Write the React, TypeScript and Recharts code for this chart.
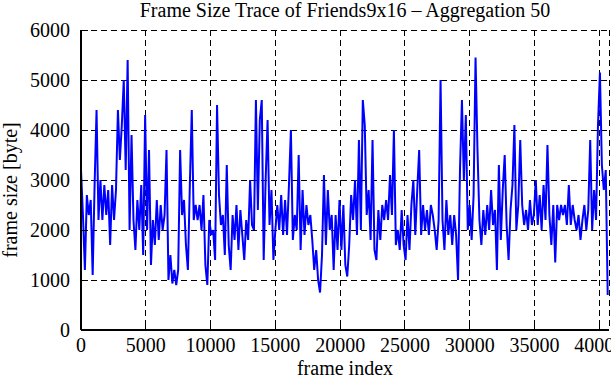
import React from 'react';
import { CartesianGrid, Label, Line, LineChart, XAxis, YAxis } from 'recharts';

// one plotted sample every 150 frames
const frameStep = 150;
const frameSizes = [
  3200, 2300, 1200, 2700, 2300, 2600, 1100, 2900, 4400, 2200, 3000, 2200, 2900, 2300, 2800, 1700,
  2900, 2200, 2800, 4400, 3400, 4100, 5000, 3200, 5400, 2000, 3900, 2200, 1600, 2600, 2000, 2900,
  1500, 4300, 2000, 3600, 1300, 2200, 1700, 2600, 1800, 2500, 2000, 2300, 3600, 1000,
  1500, 930, 1200, 900, 1200, 3600, 2300, 2600, 1700, 1200, 2900, 4400, 2200, 2500, 2200, 2500,
  2000, 2700, 1300, 900, 2200, 1900, 2000, 1400, 4500, 2700, 2100, 2300, 1500, 3300, 1700, 1200,
  2300, 1800, 2500, 1600, 2400, 1900, 1400, 2200, 1800, 3000, 2100, 2000, 4600,
  2400, 4200, 4600, 1400, 3000, 4200, 2100, 2800, 1400, 2000, 2500, 2000, 2700, 1900, 2600, 1900,
  2900, 4000, 1800, 2300, 2000, 3500, 1600, 2800, 1900, 2500, 2100, 2300, 1800, 1200, 1600, 1000,
  750, 1500, 3100, 1700, 2800, 2000, 2300, 1200, 2300, 1600, 2600, 1600, 2500,
  1300, 1070, 1700, 2700, 2200, 3000, 1900, 3800, 2000, 4600, 4100, 2300, 2800, 1800, 3800, 1600,
  1400, 2400, 1800, 2500, 2200, 2600, 2200, 3100, 2300, 4000, 1700, 2000, 1600, 2400, 1700, 1400,
  2300, 1600, 2500, 3000, 1900, 2800, 3600, 1900, 2500, 2000, 2400, 1900, 2500,
  2300, 2000, 1600, 2200, 5000, 2200, 1600, 2600, 1900, 2300, 1700, 2300, 1900, 1000, 3200, 4600,
  3000, 4300, 2000, 2500, 1800, 2700, 5450, 3600, 2200, 1700, 2400, 1900, 2500, 2000, 2800, 2100,
  2400, 1200, 3300, 1800, 2800, 3500, 2100, 1400, 2400, 2900, 4100, 2000, 2500, 3800,
  2500, 2100, 2400, 2000, 2600, 2100, 2300, 3000, 2100, 2700, 2000, 2900, 2200, 3700, 2300, 1700,
  2500, 1350, 2500, 2200, 2500, 2300, 2500, 2100, 2900, 2100, 2500, 2200, 2000, 2300, 1800, 2200,
  2500, 2000, 2400, 3800, 2000, 2800, 2200, 4100, 5150, 3300, 2800, 3200, 700,
];

const xTicks = [0, 5000, 10000, 15000, 20000, 25000, 30000, 35000, 40000];
const yTicks = [0, 1000, 2000, 3000, 4000, 5000, 6000];
const xMax = 40750;

const data = frameSizes.map((size, i) => ({ frame: i * frameStep, size }));

const font = "'Liberation Serif', 'Times New Roman', serif";
const frameLine = { stroke: '#000', strokeWidth: 2, shapeRendering: 'crispEdges' };

const BottomTick = ({ x, y, payload }: any) => (
  <g>
    <line x1={x} y1={y - 8} x2={x} y2={y - 15} stroke="#000" shapeRendering="crispEdges" />
    <text x={x} y={y} dy="0.71em" textAnchor="middle" fontFamily={font} fontSize={20} fill="#000">
      {payload.value}
    </text>
  </g>
);

const LeftTick = ({ x, y, payload }: any) => (
  <g>
    <line x1={x + 11} y1={y} x2={x + 18} y2={y} stroke="#000" shapeRendering="crispEdges" />
    <text x={x} y={y} dy="0.355em" textAnchor="end" fontFamily={font} fontSize={20} fill="#000">
      {payload.value}
    </text>
  </g>
);

const TopTick = ({ x, y }: any) => (
  <line x1={x} y1={y} x2={x} y2={y + 7} stroke="#000" shapeRendering="crispEdges" />
);

const RightTick = ({ x, y }: any) => (
  <line x1={x} y1={y} x2={x - 7} y2={y} stroke="#000" shapeRendering="crispEdges" />
);

const App = () => {
  return (
    <div style={{ position: 'absolute', left: 0, top: 0, width: 611, height: 380, background: '#fff' }}>
      <div
        style={{
          position: 'absolute',
          left: 81,
          top: 1,
          width: 528,
          textAlign: 'center',
          fontFamily: font,
          fontSize: 20,
          lineHeight: '18px',
          color: '#000',
          whiteSpace: 'nowrap',
        }}
      >
        Frame Size Trace of Friends9x16 – Aggregation 50
      </div>
      <LineChart width={611} height={380} data={data} margin={{ top: 30, right: 2, bottom: 0, left: 0 }}>
        <CartesianGrid stroke="#000" strokeDasharray="6 4" shapeRendering="crispEdges" />
        <XAxis
          dataKey="frame"
          type="number"
          domain={[0, xMax]}
          ticks={xTicks}
          interval={0}
          height={50}
          tickSize={0}
          tickMargin={8}
          allowDataOverflow
          axisLine={frameLine}
          tick={BottomTick}
        >
          <Label
            content={({ viewBox }: any) => (
              <text x={viewBox.x + viewBox.width / 2} y={viewBox.y + 45} textAnchor="middle" fontFamily={font} fontSize={20} fill="#000">
                frame index
              </text>
            )}
          />
        </XAxis>
        <XAxis
          xAxisId="top"
          orientation="top"
          type="number"
          domain={[0, xMax]}
          ticks={xTicks}
          interval={0}
          height={0}
          tickSize={0}
          tickMargin={0}
          allowDataOverflow
          axisLine={frameLine}
          tick={TopTick}
        />
        <YAxis
          type="number"
          domain={[0, 6000]}
          ticks={yTicks}
          interval={0}
          width={81}
          tickSize={0}
          tickMargin={11}
          allowDataOverflow
          axisLine={frameLine}
          tick={LeftTick}
        >
          <Label
            content={({ viewBox }: any) => {
              const cx = viewBox.x + 17;
              const cy = viewBox.y + viewBox.height / 2 + 10;
              return (
                <text x={cx} y={cy} transform={`rotate(-90 ${cx} ${cy})`} textAnchor="middle" fontFamily={font} fontSize={20} fill="#000">
                  frame size [byte]
                </text>
              );
            }}
          />
        </YAxis>
        <YAxis
          yAxisId="right"
          orientation="right"
          type="number"
          domain={[0, 6000]}
          ticks={yTicks}
          interval={0}
          width={0}
          tickSize={0}
          tickMargin={0}
          allowDataOverflow
          axisLine={frameLine}
          tick={RightTick}
        />
        <Line
          type="linear"
          dataKey="size"
          stroke="#0000ff"
          strokeWidth={2}
          dot={false}
          activeDot={false}
          isAnimationActive={false}
        />
      </LineChart>
    </div>
  );
};

export default App;
